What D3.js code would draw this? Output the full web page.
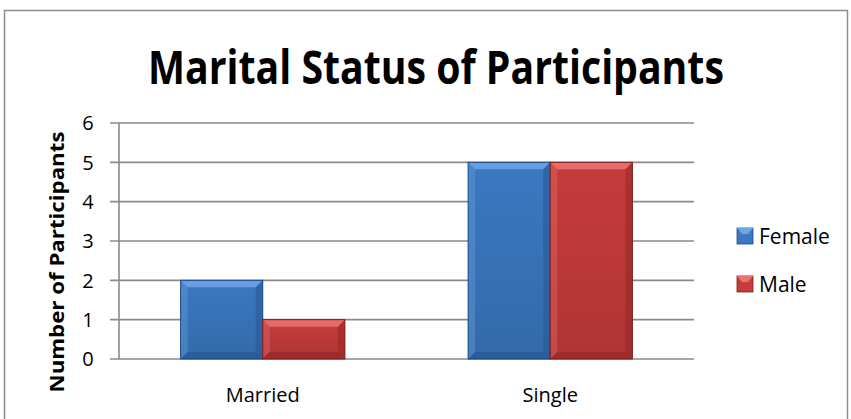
<!DOCTYPE html>
<html>
<head>
<meta charset="utf-8">
<script src="https://cdn.jsdelivr.net/npm/d3@7"></script>
<style>
  body { margin: 0; background: #fff; }
  text { font-family: 'Open Sans', 'Noto Sans', sans-serif; fill: #000; }
</style>
</head>
<body>
<svg id="chart" width="851" height="419"></svg>
<script>
var categories = ['Married', 'Single']
var seriesNames = ['Female', 'Male']
var femaleValues = [2, 5]
var maleValues = [1, 5]
var yTicks = [0, 1, 2, 3, 4, 5, 6]

var svg = d3.select('#chart'),
  margin = { left: 119, right: 157, top: 123, bottom: 60 },
  width = 851 - margin.left - margin.right,
  height = 359 - margin.top

var colors = {
  Female: { main: '#3b78c1', light: '#6ea5e6', dark: '#23528f', edge: '#1f4a80' },
  Male: { main: '#c63c3b', light: '#ec7372', dark: '#8e2322', edge: '#7a1f1f' }
}

// outer chart border
svg.append('rect')
  .attr('x', 4.5).attr('y', 10.5)
  .attr('width', 843).attr('height', 430)
  .attr('fill', '#fff')
  .attr('stroke', '#8c8c8c')
  .attr('stroke-width', 1.5)

// gradients
var defs = svg.append('defs')
seriesNames.forEach(function(s) {
  var g = defs.append('linearGradient')
    .attr('id', 'grad-' + s)
    .attr('x1', 0).attr('x2', 0).attr('y1', 0).attr('y2', 1)
  g.append('stop').attr('offset', '0%').attr('stop-color', colors[s].main)
  g.append('stop').attr('offset', '100%').attr('stop-color', d3.color(colors[s].main).darker(0.35))
})

var main = svg.append('g').attr('transform', 'translate(' + margin.left + ',' + margin.top + ')')

var x0 = d3.scaleBand().domain(categories).range([0, width]).paddingInner(0).paddingOuter(0)
var y = d3.scaleLinear().domain([0, 6]).range([height, 0])
var groupWidth = x0.bandwidth() / 1.75
var x1 = d3.scaleBand().domain(seriesNames).range([0, groupWidth])

// grid
main.append('g').selectAll('line')
  .data(yTicks)
  .enter().append('line')
  .attr('x1', -9).attr('x2', width)
  .attr('y1', function(d) { return y(d) })
  .attr('y2', function(d) { return y(d) })
  .attr('stroke', '#8a8a8a')
  .attr('stroke-width', 1.6)
main.append('line')
  .attr('x1', 0).attr('x2', 0).attr('y1', 0).attr('y2', height)
  .attr('stroke', '#8a8a8a').attr('stroke-width', 1.6)

// y tick labels
main.append('g').selectAll('text')
  .data(yTicks)
  .enter().append('text')
  .attr('x', -31)
  .attr('y', function(d) { return y(d) })
  .attr('dy', '0.36em')
  .attr('text-anchor', 'middle')
  .style('font-size', '20px')
  .text(function(d) { return d })

// bars
var data = []
categories.forEach(function(c, i) {
  data.push({ cat: c, series: 'Female', value: femaleValues[i] })
  data.push({ cat: c, series: 'Male', value: maleValues[i] })
})

var bev = 7
var bars = main.append('g').selectAll('g')
  .data(data)
  .enter().append('g')
  .attr('transform', function(d) {
    var bx = x0(d.cat) + (x0.bandwidth() - groupWidth) / 2 + x1(d.series)
    return 'translate(' + bx + ',' + y(d.value) + ')'
  })
bars.each(function(d) {
  var g = d3.select(this),
    w = x1.bandwidth(),
    h = y(0) - y(d.value),
    c = colors[d.series]
  g.append('rect').attr('width', w).attr('height', h).attr('fill', 'url(#grad-' + d.series + ')')
  // top bevel
  g.append('polygon')
    .attr('points', [[0, 0], [w, 0], [w - bev, bev], [bev, bev]].join(' '))
    .attr('fill', c.light).attr('opacity', 0.85)
  // left bevel
  g.append('polygon')
    .attr('points', [[0, 0], [bev, bev], [bev, h - bev], [0, h]].join(' '))
    .attr('fill', c.light).attr('opacity', 0.35)
  // right bevel
  g.append('polygon')
    .attr('points', [[w, 0], [w, h], [w - bev, h - bev], [w - bev, bev]].join(' '))
    .attr('fill', c.dark).attr('opacity', 0.45)
  // bottom bevel
  g.append('polygon')
    .attr('points', [[0, h], [bev, h - bev], [w - bev, h - bev], [w, h]].join(' '))
    .attr('fill', c.dark).attr('opacity', 0.55)
  g.append('rect').attr('width', w).attr('height', h)
    .attr('fill', 'none').attr('stroke', c.edge).attr('stroke-width', 1)
})

// category labels
main.append('g').selectAll('text')
  .data(categories)
  .enter().append('text')
  .attr('x', function(d) { return x0(d) + x0.bandwidth() / 2 })
  .attr('y', height + 43)
  .attr('text-anchor', 'middle')
  .style('font-size', '20px')
  .text(function(d) { return d })

// title, squeezed horizontally to the reference width
var title = svg.append('g').attr('transform', 'translate(436,84)')
var titleText = title.append('text')
  .attr('text-anchor', 'middle')
  .style('font-size', '46px')
  .style('font-weight', 'bold')
  .text('Marital Status of Participants')
var tw = titleText.node().getComputedTextLength()
titleText.attr('transform', 'scale(' + (576 / tw) + ',1)')

// y axis title
var yTitle = svg.append('g').attr('transform', 'translate(64,262) rotate(-90)')
var yTitleText = yTitle.append('text')
  .attr('text-anchor', 'middle')
  .style('font-size', '19px')
  .style('font-weight', 'bold')
  .text('Number  of Participants')
var yw = yTitleText.node().getComputedTextLength()
yTitleText.attr('transform', 'scale(' + (261 / yw) + ',1)')

// legend
var legend = svg.append('g').selectAll('g')
  .data(seriesNames)
  .enter().append('g')
  .attr('transform', function(d, i) { return 'translate(737,' + (228 + i * 48) + ')' })
legend.append('rect')
  .attr('width', 16).attr('height', 16)
  .attr('fill', function(d) { return colors[d].main })
  .attr('stroke', function(d) { return colors[d].edge })
  .attr('stroke-width', 0.8)
legend.append('polygon')
  .attr('points', '0,0 16,0 11,6 5,6')
  .attr('fill', function(d) { return colors[d].light })
legend.append('text')
  .attr('x', 22).attr('y', 16)
  .style('font-size', '21px')
  .text(function(d) { return d })
</script>
</body>
</html>
